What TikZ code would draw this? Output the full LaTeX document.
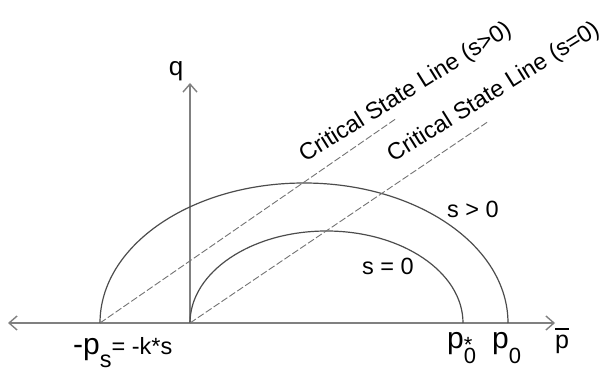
\documentclass[tikz,border=0pt]{standalone}
\usepackage{fontspec}
\setmainfont{Liberation Sans}
\usetikzlibrary{arrows.meta}

\tikzset{
  axisline/.style={draw=black!50, line width=1.4pt, -{Straight Barb[length=8pt,width=14pt]}},
  yieldcurve/.style={draw=black!70, line width=1.2pt},
  csline/.style={draw=black!55, line width=0.9pt, dash pattern=on 7pt off 2.5pt},
  lbl/.style={inner sep=0pt, font=\fontsize{23.5}{26}\selectfont},
}

\begin{document}
\begin{tikzpicture}[x=1pt,y=1pt]
  \useasboundingbox (0,0) rectangle (614,372);
  \coordinate (O) at (190,49);
  \coordinate (ps) at (100,49);
  \coordinate (xleft) at (8,49);
  \coordinate (xright) at (555,49);
  \coordinate (qtop) at (190,289);
  \coordinate (cs1end) at (397,254);
  \coordinate (cs2end) at (489,251);
  \draw[axisline] (ps) -- (xleft);
  \draw[axisline] (ps) -- (xright);
  \draw[axisline] (O) -- (qtop);
  \draw[yieldcurve] (ps) arc[start angle=180, end angle=0, x radius=204, y radius=140];
  \draw[yieldcurve] (O) arc[start angle=180, end angle=0, x radius=136.5, y radius=92];
  \draw[csline] (ps) -- (cs1end);
  \draw[csline] (O) -- (cs2end);
  \node[lbl, anchor=base west, rotate=32] (csl1) at (305,209) {Critical State Line (s>0)};
  \node[lbl, anchor=base west, rotate=32] (csl2) at (393,209) {Critical State Line (s=0)};
  \node[lbl, anchor=base west] (spos) at (447,154) {s > 0};
  \node[lbl, anchor=base west] (szero) at (362,97) {s = 0};
  \node[lbl, anchor=base, font=\fontsize{26}{28}\selectfont] (qlbl) at (176,296) {q};
  \node[lbl, anchor=base west] (pslbl) at (73,17)
    {{\fontsize{30}{30}\selectfont -p}\raisebox{-13pt}{s}= -k*s};
  \node[lbl, anchor=base west] (pstar) at (447,23)
    {{\fontsize{30}{30}\selectfont p}\rlap{\raisebox{-15pt}{\fontsize{22}{22}\selectfont 0}}\raisebox{-4pt}{\fontsize{22}{22}\selectfont *}};
  \node[lbl, anchor=base west] (pzero) at (492,23)
    {{\fontsize{30}{30}\selectfont p}\raisebox{-15pt}{\fontsize{22}{22}\selectfont 0}};
  \node[lbl, anchor=base west, font=\fontsize{25}{27}\selectfont] (pbar) at (555,23)
    {\rlap{\rule[19pt]{14pt}{1.6pt}}p};
\end{tikzpicture}
\end{document}
